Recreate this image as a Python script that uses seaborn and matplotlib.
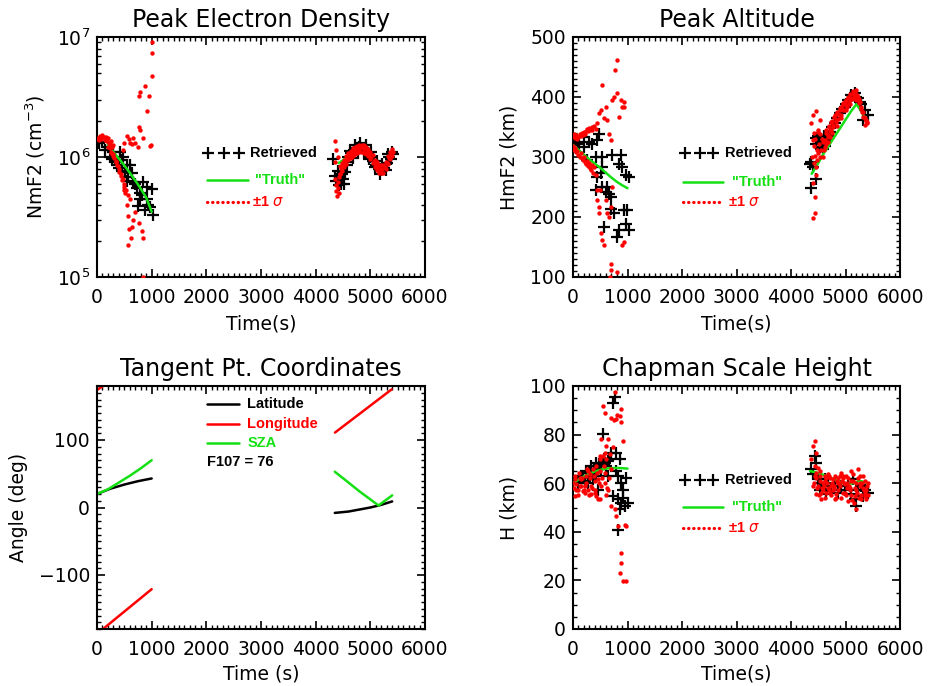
import matplotlib
matplotlib.use("Agg")
import matplotlib.pyplot as plt
import seaborn as sns
import pandas as pd
from matplotlib.ticker import MultipleLocator, LogLocator, NullFormatter

# ---------------- DATA ----------------
# Panel 1: Peak electron density (values in units of 1e5 cm^-3)
NE_UNIT = 1e5
ne_ret_t = [30, 90, 150, 200, 238, 280, 300, 330, 360, 380, 400, 421, 450, 460, 480, 510, 543, 543, 570, 604,
            634, 665, 700, 725, 755, 786, 786, 817, 848, 878, 908, 908, 940, 969, 1000, 1030,
            4323, 4360, 4380, 4400, 4420, 4440, 4460, 4480, 4500, 4520, 4540,
            4560, 4600, 4650, 4700, 4750, 4800, 4850, 4900, 4950, 5000, 5050, 5100, 5150, 5200, 5250, 5300, 5350, 5400, 5420,
            4620, 4720, 4820, 4920, 5020, 5120, 5220, 5320,
            4580, 4680, 4780, 4880, 4980, 5080, 5180, 5280, 5380]
ne_ret_v = [13.0, 13.3, 11.5, 12.2, 10.0, 9.6, 11.0, 9.4, 8.6, 9.0, 8.1, 11.0, 7.7, 9.5, 10.0, 7.5, 6.3, 8.5, 6.8, 8.6,
            7.3, 6.2, 5.9, 5.5, 3.9, 5.0, 4.5, 4.8, 6.2, 3.6, 5.6, 4.5, 4.0, 3.8, 5.4, 3.3,
            9.6, 7.0, 6.3, 7.6, 5.8, 6.8, 6.0, 7.2, 6.5, 5.9, 7.5,
            9.0, 10.0, 10.9, 11.5, 11.9, 12.0, 11.9, 11.6, 10.9, 10.0, 9.3, 8.6, 8.0, 7.8, 8.1, 8.9, 10.0, 11.0, 10.6,
            11.2, 12.6, 13.0, 12.5, 11.0, 9.2, 8.8, 10.5,
            8.6, 9.9, 10.8, 10.9, 9.6, 8.2, 7.2, 7.8, 9.6]
ne_sig_t = [0, 20, 40, 60, 80, 100, 120, 140, 160, 180, 200, 220, 240, 260, 280, 300,
            200, 230, 260, 290, 320, 350, 380, 410, 440, 470, 500, 530, 560,
            250, 300, 340, 370, 400, 430, 460, 490, 520,
            480, 500, 543, 580, 600, 634, 660, 700, 750, 770, 786, 786, 770, 850, 878, 908, 950, 970, 990, 1000, 1000, 1012,
            500, 543, 573, 573, 580, 620, 634, 660, 700, 817, 835, 847, 760, 600,
            4353, 4380, 4400, 4360, 4370, 4380, 4390, 4400, 4410, 4420, 4430, 4440, 4350,
            4440, 4480, 4520, 4560, 4600, 4640, 4680, 4720, 4760, 4800, 4840, 4880, 4920, 4960, 5000, 5040, 5080, 5120,
            5160, 5200, 5240, 5280, 5320, 5360, 5400,
            4440, 4480, 4520, 4560, 4600, 4640, 4680, 4720, 4760, 4800, 4840, 4880, 4920, 4960, 5000, 5040, 5080, 5120,
            5160, 5200, 5240, 5280, 5320, 5360, 5400,
            4460, 4500, 4540, 4580, 4620, 4660, 4700, 4740, 4780, 4820, 4860, 4900, 4940, 4980, 5020, 5060, 5100, 5140,
            5180, 5220, 5260, 5300, 5340, 5380, 5420]
ne_sig_v = [14.0, 14.5, 13.8, 15.0, 14.2, 15.2, 14.6, 13.9, 14.8, 13.5, 14.3, 13.2, 12.8, 13.6, 12.0, 12.5,
            12.2, 11.8, 10.8, 10.2, 9.8, 9.0, 8.4, 8.0, 7.2, 6.6, 6.0, 5.3, 4.8,
            11.0, 10.5, 9.2, 8.6, 7.5, 6.9, 6.4, 5.6, 5.0,
            11.5, 13.0, 15.0, 14.2, 13.0, 12.8, 14.5, 13.0, 12.0, 17.8, 16.8, 35.0, 32.0, 14.5, 39.0, 24.0, 32.0, 12.3, 12.5, 47.0, 73.0, 91.0,
            5.3, 4.0, 3.2, 1.85, 2.5, 2.1, 2.6, 3.0, 3.5, 2.4, 1.0, 2.1, 2.8, 4.5,
            13.7, 11.5, 10.0, 6.5, 5.8, 5.2, 4.7, 5.5, 6.2, 5.0, 6.8, 7.2, 9.0,
            8.4, 8.9, 9.5, 10.2, 10.8, 11.3, 11.8, 12.1, 12.4, 12.6, 12.6, 12.5, 12.2, 11.7, 11.0, 10.3, 9.5, 9.0,
            8.6, 8.5, 8.6, 9.1, 10.1, 11.0, 11.7,
            7.2, 7.7, 8.3, 8.8, 9.4, 9.9, 10.2, 10.5, 10.8, 11.0, 11.0, 10.9, 10.6, 10.1, 9.6, 8.9, 8.3, 7.8,
            7.4, 7.3, 7.4, 7.9, 8.7, 9.6, 10.1,
            8.0, 8.6, 9.2, 9.8, 10.4, 10.8, 11.2, 11.5, 11.7, 11.8, 11.8, 11.6, 11.2, 10.6, 10.0, 9.3, 8.7, 8.2,
            7.9, 7.9, 8.2, 8.9, 9.8, 10.6, 11.0]
ne_truth1_t = [200, 300, 450, 600, 750, 900, 1000]
ne_truth1_v = [12.6, 11.0, 9.1, 7.4, 5.9, 4.6, 3.5]
ne_truth2_t = [4420, 4500, 4580]
ne_truth2_v = [8.9, 9.4, 10.0]

# Panel 2: Peak altitude (km)
hm_ret_t = [20, 97, 112, 204, 204, 265, 296, 357, 418, 449, 480, 510, 541, 541, 449, 418, 541, 602, 633, 663,
            694, 571, 694, 724, 755, 816, 847, 847, 877, 908, 938, 969, 969, 999, 1030, 1030,
            4343, 4373, 4404, 4373, 4465, 4465, 4527, 4557, 4588, 4620, 4649, 4680, 4710, 4760, 4802, 4850, 4894, 4940,
            4985, 5016, 5047, 5108, 5169, 5200, 5230, 5260, 5291, 5321, 5352, 5413,
            4500, 4540, 4580, 4600, 4450]
hm_ret_v = [328, 325, 322, 317, 333, 295, 325, 322, 300, 328, 339, 273, 300, 284, 267, 245, 250, 242, 250, 239,
            234, 184, 214, 303, 206, 167, 178, 289, 303, 284, 211, 270, 189, 211, 178, 267,
            289, 292, 284, 248, 264, 331, 317, 325, 322, 318, 328, 335, 342, 350, 356, 365, 373, 380,
            384, 389, 395, 403, 406, 400, 398, 392, 389, 362, 378, 370,
            335, 330, 313, 335, 322]
hm_sig_t = [0, 20, 40, 60, 80, 100, 120, 140, 160, 180, 200, 220, 240, 260, 280, 300, 320, 340,
            0, 20, 40, 60, 80, 100, 120, 140, 160, 180, 200, 220, 240, 260, 280, 300, 320, 340,
            357, 380, 418, 449, 480, 510, 541, 560, 602, 633, 663, 694, 724, 755, 770, 800, 816, 850, 877, 900, 930, 940,
            330, 360, 390, 418, 449, 470, 500, 520, 541, 571, 602, 633, 663, 694, 724, 694, 700, 680, 816, 908, 938, 480, 449,
            4404, 4465, 4527, 4373, 4404, 4435, 4465, 4496, 4557, 4618, 4679, 4740, 4771, 4833, 4894, 4955, 5016, 5077,
            5138, 5169, 5230, 5291, 5321, 5352, 5383, 4404, 4435, 4404, 4445, 4588, 4649, 4710, 4650, 4700, 4750, 4800,
            4850, 4900, 4950, 5000, 5050, 5100, 5150, 5200, 5250, 5300, 5350, 5400, 4500, 4420, 4380, 4420, 4450, 4480, 4530,
            4600, 4680, 4760, 4840, 4920, 5000, 5080, 5160,
            4420, 4470, 4520, 4570, 4620, 4670, 4720, 4770, 4820, 4870, 4920, 4970, 5020, 5070, 5120, 5170, 5220, 5270, 5320, 5370,
            4440, 4490, 4540, 4590, 4640, 4690, 4740, 4790, 4840, 4890, 4940, 4990, 5040, 5090, 5140, 5190, 5240, 5290, 5340, 5390]
hm_sig_v = [335, 338, 332, 336, 330, 334, 338, 335, 340, 337, 342, 339, 344, 346, 343, 348, 345, 350,
            318, 312, 315, 308, 310, 304, 300, 306, 298, 295, 300, 292, 288, 294, 285, 290, 282, 287,
            345, 352, 347, 356, 373, 378, 420, 365, 384, 361, 339, 328, 395, 400, 445, 406, 462, 367, 395, 384, 392, 383,
            278, 273, 284, 270, 228, 217, 245, 173, 162, 153, 228, 206, 200, 217, 250, 122, 111, 100, 109, 153, 159, 206, 245,
            370, 376, 362, 356, 328, 301, 284, 306, 311, 317, 333, 345, 353, 362, 370, 378, 387, 395,
            406, 409, 400, 384, 367, 353, 360, 256, 234, 198, 207, 300, 322, 333, 340, 350, 360, 370,
            375, 382, 390, 395, 400, 398, 402, 395, 390, 375, 365, 356, 345, 340, 300, 290, 270, 295, 300,
            312, 325, 340, 352, 365, 378, 388, 398,
            318, 312, 322, 330, 328, 337, 344, 350, 358, 363, 370, 378, 384, 390, 396, 402, 404, 392, 375, 362,
            330, 342, 338, 325, 345, 352, 358, 366, 372, 378, 385, 392, 398, 405, 410, 412, 396, 380, 366, 358]
hm_truth1_t = [0, 100, 200, 300, 400, 500, 600, 700, 800, 900, 1000]
hm_truth1_v = [320, 312, 304, 296, 289, 282, 274, 266, 259, 253, 248]
hm_truth2_t = [4380, 4500, 4600, 4700, 4800, 4900, 5000, 5100, 5200, 5300, 5400]
hm_truth2_v = [272, 290, 306, 320, 334, 348, 362, 376, 388, 375, 358]

# Panel 3: tangent point coordinates (deg)
lat1_t = [0, 250, 500, 750, 1000]
lat1_v = [20, 28, 34, 39, 43]
lat2_t = [4350, 4600, 4800, 5000, 5200, 5400]
lat2_v = [-8, -6, -3, 0, 4, 9]
lon1a_t = [0, 110]
lon1a_v = [174, 180]
lon1b_t = [110, 1000]
lon1b_v = [-180, -121]
lon2_t = [4353, 5390]
lon2_v = [111, 175]
sza1_t = [0, 200, 400, 600, 800, 1000]
sza1_v = [20, 27, 37, 47, 58, 70]
sza2_t = [4350, 4600, 4800, 5000, 5150, 5250, 5400]
sza2_v = [53, 37, 24, 12, 3, 9, 18]

# Panel 4: Chapman scale height (km)
h_ret_t = [734, 765, 550, 795, 703, 642, 581, 520, 459, 428, 367, 459, 275, 153, 92, 214, 826, 887, 918, 979,
           1009, 948, 887, 826, 856, 826, 918, 734, 795, 856, 336, 642,
           180, 240, 300, 380, 420, 480, 520, 560, 600, 660,
           4373, 4434, 4465, 4404, 4495, 4557, 4618, 4679, 4740, 4801, 4862, 4924, 4985, 5046, 5107, 5168, 5199, 5229,
           5290, 5352, 5413, 5321, 5138, 4648, 4526]
h_ret_v = [93.2, 95.3, 80.2, 72.6, 72.6, 69.1, 68.5, 67.0, 65.7, 68.5, 61.6, 57.4, 60.2, 63.0, 60.2, 60.9, 63.0, 60.2, 57.4, 62.3,
           52.0, 50.6, 52.0, 53.3, 49.2, 40.9, 54.0, 54.7, 65.0, 69.8, 67.0, 63.0,
           62, 65, 64, 66, 63, 68, 66, 70, 67, 70,
           65.7, 71.2, 68.5, 63.6, 61.6, 60.2, 61.6, 58.8, 57.4, 60.2, 56.0, 58.8, 57.4, 60.2, 55.4, 53.3, 50.6, 57.4,
           58.8, 57.4, 56.0, 54.7, 61.6, 55.4, 57.4]
h_sig_t = [765, 550, 581, 703, 795, 887, 856, 887, 918, 642, 612, 581, 520, 489, 730, 760, 810,
           887, 875, 856, 918, 979, 826, 795, 948, 979, 703, 765, 489, 428, 214, 92, 31, 459, 600,
           0, 31, 61, 122, 153, 183, 244, 275, 306, 336, 367, 398, 428, 459, 489, 520, 550, 581, 612, 642, 61, 122, 214, 275, 336, 398,
           15, 45, 90, 105, 140, 170, 200, 230, 260, 290, 320, 350, 380, 410, 440, 470, 500, 530, 560, 590, 620, 660, 680, 700,
           4434, 4404, 4465, 4373, 4434, 4404, 4465, 4526, 4587, 4648, 4709, 4771, 4832, 4893, 4954, 5015, 5076, 5138, 5168, 5199,
           5229, 5260, 5321, 5352, 5413, 5382, 4557, 4679, 4801, 4924, 5046, 5107, 4862, 4985, 4740, 4618, 4495, 5290,
           4420, 4480, 4540, 4600, 4660, 4720, 4780, 4840, 4900, 4960, 5020, 5080, 5140, 5200, 5260, 5320, 5380,
           4450, 4510, 4570, 4630, 4690, 4750, 4810, 4870, 4930, 4990, 5050, 5110, 5170, 5230, 5290, 5350, 5410,
           4435, 4495, 4555, 4615, 4675, 4735, 4795, 4855, 4915, 4975, 5035, 5095, 5155, 5215, 5275, 5335, 5395,
           4465, 4525, 4585, 4645, 4705, 4765, 4825, 4885, 4945, 5005, 5065, 5125, 5185, 5245, 5305, 5365]
h_sig_v = [97.4, 91.9, 89.0, 87.0, 86.4, 90.5, 87.7, 85.0, 77.4, 78.1, 75.3, 72.6, 78.1, 71.2, 75.0, 86.0, 88.0,
           31.3, 27.1, 23.0, 19.6, 19.6, 42.3, 46.4, 43.0, 42.3, 50.6, 49.2, 53.3, 54.7, 56.0, 57.4, 54.7, 53.3, 55.0,
           60.0, 61.6, 57.4, 58.8, 61.6, 56.8, 63.0, 57.4, 63.6, 58.8, 65.7, 56.0, 67.0, 61.6, 69.8, 58.8, 71.2, 60.2, 69.8, 57.4,
           59.5, 62.3, 58.8, 65.0, 55.4, 60.9,
           58, 63, 55, 64, 59, 62, 57, 60, 66, 55, 62, 58, 63, 57, 64, 60, 65, 62, 67, 64, 58, 62, 72, 66,
           77.4, 75.3, 72.6, 69.8, 62.9, 58.8, 55.4, 62.9, 57.4, 62.3, 56.0, 61.6, 55.4, 62.9, 56.0, 62.9, 57.4, 63.6, 54.7, 49.2,
           65.7, 60.2, 62.9, 54.7, 60.2, 53.3, 53.3, 63.6, 53.3, 64.3, 52.6, 65.0, 60.2, 59.5, 58.8, 54.0, 66.4, 53.3,
           60, 58, 61, 59, 60, 62, 58, 61, 59, 62, 60, 58, 61, 57, 59, 58, 57,
           64, 55, 58, 63, 57, 60, 63, 57, 61, 56, 62, 55, 58, 62, 55, 61, 55,
           67, 59, 56, 61, 58, 55, 59, 62, 54, 60, 58, 61, 52, 56, 63, 57, 59,
           62, 65, 60, 56, 63, 57, 54, 60, 63, 55, 59, 53, 60, 54, 60, 56]
h_truth1_t = [0, 100, 200, 300, 400, 500, 600, 700, 800, 900, 1000]
h_truth1_v = [60, 61.5, 62.8, 63.9, 64.8, 65.5, 66, 66.2, 66.3, 66.2, 66.0]
h_truth2_t = [4350, 4450, 4550, 4650, 4750, 4850, 4950, 5050, 5150, 5250, 5350, 5420]
h_truth2_v = [65, 64.5, 63.8, 63, 62, 61, 60.2, 59.8, 60, 61, 60.5, 60]

# ---------------- STYLE ----------------
GREEN = "#14e014"
RED = "#ff0000"
sns.set_style("ticks")
plt.rcParams.update({
    "font.family": ["DejaVu Sans"],
    "axes.linewidth": 1.5,
    "axes.edgecolor": "black",
    "text.color": "black",
    "axes.labelcolor": "black",
    "xtick.color": "black",
    "ytick.color": "black",
    "mathtext.fontset": "dejavusans",
})
LEG = dict(fontfamily="Liberation Sans", fontweight="bold", fontsize=10.5)

fig = plt.figure(figsize=(9.31, 6.86), dpi=100)
W, H = 931.0, 686.0


def add_ax(l, t, r, b):
    return fig.add_axes([l / W, 1 - b / H, (r - l) / W, (b - t) / H])


ax1 = add_ax(97, 37, 425, 277)
ax2 = add_ax(573, 37, 900, 277)
ax3 = add_ax(97, 386, 425, 629)
ax4 = add_ax(573, 386, 900, 629)


def style(ax, title, xlabel, ylabel, ylab_x, xlab_y):
    ax.set_xlim(0, 6000)
    ax.xaxis.set_major_locator(MultipleLocator(1000))
    ax.xaxis.set_minor_locator(MultipleLocator(100))
    ax.tick_params(which="major", direction="in", top=True, right=True, length=6, width=1.2, labelsize=13.5)
    ax.tick_params(which="minor", direction="in", top=True, right=True, length=3, width=1.0)
    ax.tick_params(axis="x", which="major", pad=8)
    ax.tick_params(axis="y", which="major", pad=5)
    ax.set_title(title, fontsize=17, pad=7)
    ax.set_xlabel(xlabel, fontsize=13.5)
    ax.set_ylabel(ylabel, fontsize=13.5)
    ax.yaxis.set_label_coords(ylab_x, 0.5)
    ax.xaxis.set_label_coords(0.5, xlab_y)
    for s in ax.spines.values():
        s.set_linewidth(1.5)
        s.set_color("black")


def draw_sets(ax, rt, rv, st, sv, truths, scale=1.0):
    sns.scatterplot(x=rt, y=[v * scale for v in rv], ax=ax, marker="+", color="black",
                    s=70, linewidth=1.6, zorder=2)
    for tt, tv in truths:
        sns.lineplot(x=tt, y=[v * scale for v in tv], ax=ax, color=GREEN, lw=1.8,
                     sort=False, estimator=None, zorder=3)
    sns.scatterplot(x=st, y=[v * scale for v in sv], ax=ax, marker="o", color=RED,
                    s=10, linewidth=0, zorder=4)


def ret_legend(ax, ys, plus_x, seg, txt_x):
    y1, y2, y3 = ys
    ax.plot(plus_x, [y1] * 3, "+", color="black", ms=8, mew=1.6, transform=ax.transAxes)
    ax.text(txt_x[0], y1, "Retrieved", transform=ax.transAxes, va="center", ha="left", color="black", **LEG)
    ax.plot(seg, [y2, y2], color=GREEN, lw=1.8, transform=ax.transAxes)
    ax.text(txt_x[1], y2, '"Truth"', transform=ax.transAxes, va="center", ha="left", color=GREEN, **LEG)
    ax.plot(seg, [y3, y3], color=RED, lw=2.3, ls=(0, (0.1, 1.5)), dash_capstyle="round",
            transform=ax.transAxes)
    ax.text(txt_x[2], y3, "±1 $\\sigma$", transform=ax.transAxes, va="center", ha="left", color=RED, **LEG)


# Panel 1
draw_sets(ax1, ne_ret_t, ne_ret_v, ne_sig_t, ne_sig_v,
          [(ne_truth1_t, ne_truth1_v), (ne_truth2_t, ne_truth2_v)], scale=NE_UNIT)
ax1.set_yscale("log")
ax1.set_ylim(1e5, 1e7)
ax1.yaxis.set_major_locator(LogLocator(base=10, numticks=10))
ax1.yaxis.set_minor_locator(LogLocator(base=10, subs=(2, 3, 4, 5, 6, 7, 8, 9), numticks=20))
ax1.yaxis.set_minor_formatter(NullFormatter())
style(ax1, "Peak Electron Density", "Time(s)", "NmF2 (cm$^{-3}$)", -0.152, -0.158)
ret_legend(ax1, (0.515, 0.404, 0.314), [0.338, 0.387, 0.433], [0.335, 0.46], [0.466, 0.482, 0.473])

# Panel 2
draw_sets(ax2, hm_ret_t, hm_ret_v, hm_sig_t, hm_sig_v,
          [(hm_truth1_t, hm_truth1_v), (hm_truth2_t, hm_truth2_v)])
ax2.set_ylim(100, 500)
ax2.yaxis.set_major_locator(MultipleLocator(100))
ax2.yaxis.set_minor_locator(MultipleLocator(10))
style(ax2, "Peak Altitude", "Time(s)", "HmF2 (km)", -0.168, -0.158)
ret_legend(ax2, (0.515, 0.397, 0.314), [0.342, 0.388, 0.429], [0.335, 0.459], [0.466, 0.485, 0.473])

# Panel 3
for tt, vv, c in [(lat1_t, lat1_v, "black"), (lat2_t, lat2_v, "black"),
                  (lon1a_t, lon1a_v, RED), (lon1b_t, lon1b_v, RED), (lon2_t, lon2_v, RED),
                  (sza1_t, sza1_v, GREEN), (sza2_t, sza2_v, GREEN)]:
    sns.lineplot(x=tt, y=vv, ax=ax3, color=c, lw=1.8, sort=False, estimator=None)
ax3.set_ylim(-180, 180)
ax3.yaxis.set_major_locator(MultipleLocator(100))
ax3.yaxis.set_minor_locator(MultipleLocator(10))
style(ax3, "Tangent Pt. Coordinates", "Time (s)", "Angle (deg)", -0.21, -0.147)
for y, lab, c in [(0.927, "Latitude", "black"), (0.845, "Longitude", RED), (0.766, "SZA", GREEN)]:
    ax3.plot([0.334, 0.434], [y, y], color=c, lw=1.8, transform=ax3.transAxes)
    ax3.text(0.458, y, lab, color=c, transform=ax3.transAxes, va="center", ha="left", **LEG)
ax3.text(0.334, 0.686, "F107 = 76", color="black", transform=ax3.transAxes, va="center", ha="left", **LEG)

# Panel 4
draw_sets(ax4, h_ret_t, h_ret_v, h_sig_t, h_sig_v,
          [(h_truth1_t, h_truth1_v), (h_truth2_t, h_truth2_v)])
ax4.set_ylim(0, 100)
ax4.yaxis.set_major_locator(MultipleLocator(20))
ax4.yaxis.set_minor_locator(MultipleLocator(5))
style(ax4, "Chapman Scale Height", "Time(s)", "H (km)", -0.168, -0.147)
ret_legend(ax4, (0.615, 0.502, 0.415), [0.342, 0.388, 0.429], [0.335, 0.459], [0.466, 0.485, 0.473])

fig.savefig("out.png", dpi=100, facecolor="white")
